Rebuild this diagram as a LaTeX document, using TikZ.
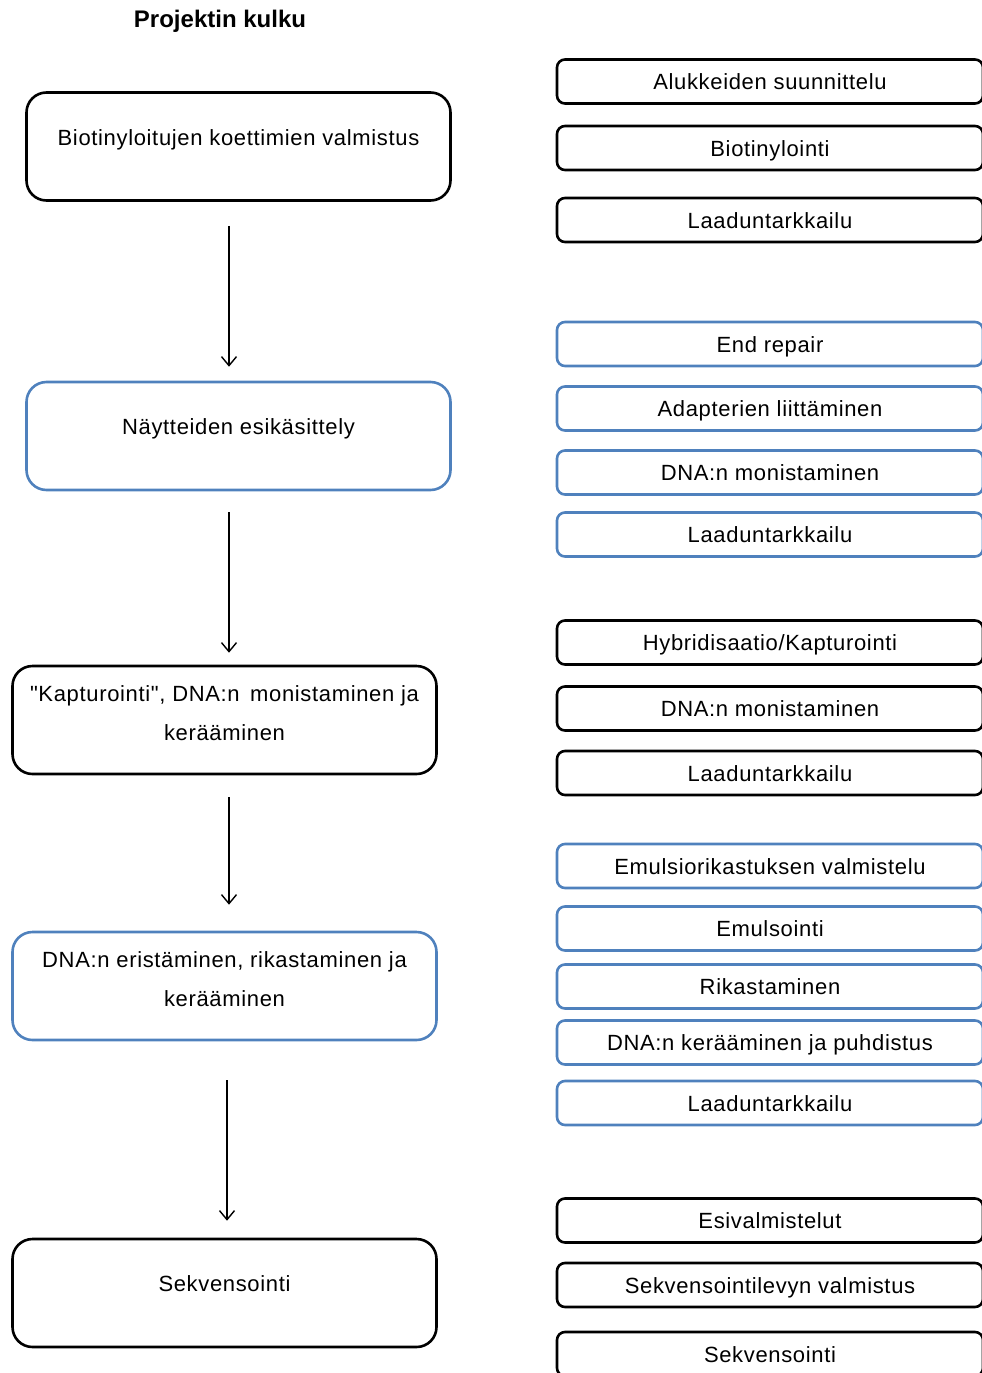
\documentclass[tikz,border=0pt]{standalone}
\usepackage{fontspec}
\setmainfont{Liberation Sans}
\newfontfamily\boxfont[LetterSpace=3]{Liberation Sans}
\usetikzlibrary{arrows.meta}
\definecolor{FlowInk}{HTML}{000000}
\definecolor{FlowBlue}{HTML}{4F81BD}
\tikzset{
  stage/.style={draw=FlowInk,rounded corners=20pt,line width=2.6pt,minimum width=424pt,minimum height=108pt,
    inner sep=0pt,align=center,font=\boxfont\fontsize{22}{39}\selectfont,text height=16pt,text depth=19pt},
  twoline/.style={text height=46pt,text depth=4.5pt},
  task/.style={draw=FlowInk,rounded corners=8pt,line width=2.6pt,minimum width=426pt,minimum height=44pt,
    inner sep=0pt,font=\boxfont\fontsize{22}{26}\selectfont,text height=17pt,text depth=1pt},
  bluebox/.style={draw=FlowBlue},
  flow/.style={-{Straight Barb[length=9pt,width=15pt]},line width=1.4pt}
}

\begin{document}
\begin{tikzpicture}[x=1pt,y=-1pt]
      \useasboundingbox (0,0) rectangle (982,1373);
      \clip (0,0) rectangle (982,1373);
      \node[font=\bfseries\fontsize{24}{28}\selectfont] (title) at (220,21.5) {Projektin kulku};

      % vaiheet
      \node[stage] (koettimet) at (238.5,146.5) {Biotinyloitujen koettimien valmistus};
      \node[stage,bluebox] (esikasittely) at (238.5,436) {Näytteiden esikäsittely};
      \node[stage,twoline] (kapturointi) at (224.5,720) {"Kapturointi", DNA:n\, monistaminen ja\\kerääminen};
      \node[stage,twoline,bluebox] (eristaminen) at (224.5,986) {DNA:n eristäminen, rikastaminen ja\\kerääminen};
      \node[stage] (sekvensointi) at (224.5,1293) {Sekvensointi};

      \draw[flow,shorten <=24pt,shorten >=14pt] ([xshift=-9.5pt]koettimet.south) -- ([xshift=-9.5pt]esikasittely.north);
      \draw[flow,shorten <=21pt,shorten >=12pt] ([xshift=-9.5pt]esikasittely.south) -- ([xshift=4.5pt]kapturointi.north);
      \draw[flow,shorten <=22pt,shorten >=26pt] ([xshift=4.5pt]kapturointi.south) -- ([xshift=4.5pt]eristaminen.north);
      \draw[flow,shorten <=39pt,shorten >=17pt] ([xshift=2.5pt]eristaminen.south) -- ([xshift=2.5pt]sekvensointi.north);

      % tyovaiheet
      \node[task] (alukkeet) at (770,81.5) {Alukkeiden suunnittelu};
      \node[task] (biotinylointi) at (770,148) {Biotinylointi};
      \node[task] (laatu1) at (770,220) {Laaduntarkkailu};

      \node[task,bluebox] (endrepair) at (770,344) {End repair};
      \node[task,bluebox] (adapterit) at (770,408.5) {Adapterien liittäminen};
      \node[task,bluebox] (monistus1) at (770,472.5) {DNA:n monistaminen};
      \node[task,bluebox] (laatu2) at (770,534.5) {Laaduntarkkailu};

      \node[task] (hybridisaatio) at (770,642.5) {Hybridisaatio/Kapturointi};
      \node[task] (monistus2) at (770,708.5) {DNA:n monistaminen};
      \node[task] (laatu3) at (770,773) {Laaduntarkkailu};

      \node[task,bluebox] (emulsio) at (770,866) {Emulsiorikastuksen valmistelu};
      \node[task,bluebox] (emulsointi) at (770,928.5) {Emulsointi};
      \node[task,bluebox] (rikastus) at (770,986.5) {Rikastaminen};
      \node[task,bluebox] (puhdistus) at (770,1042.5) {DNA:n kerääminen ja puhdistus};
      \node[task,bluebox] (laatu4) at (770,1103) {Laaduntarkkailu};

      \node[task] (esivalmistelut) at (770,1220.5) {Esivalmistelut};
      \node[task] (levy) at (770,1285) {Sekvensointilevyn valmistus};
      \node[task] (ajo) at (770,1354) {Sekvensointi};
    \end{tikzpicture}
\end{document}
